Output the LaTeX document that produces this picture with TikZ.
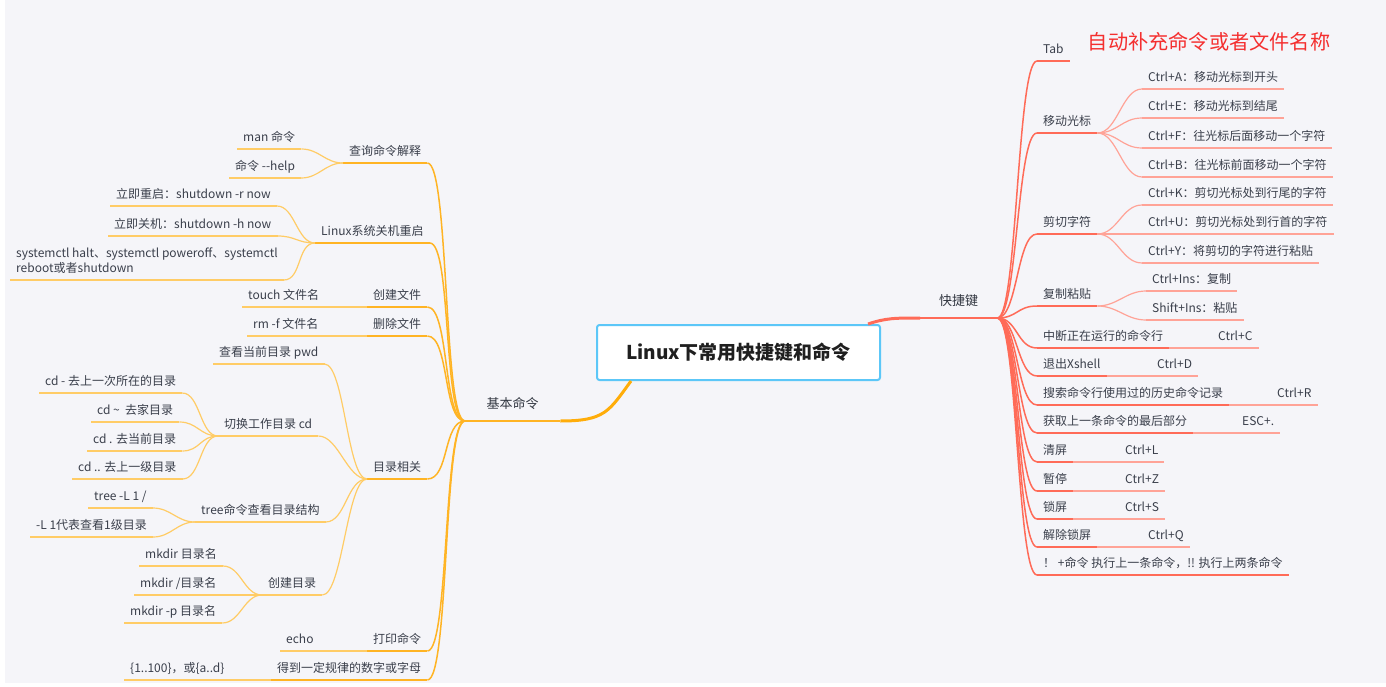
\documentclass[tikz,border=0pt]{standalone}
\usepackage{fontspec}
\setmainfont{Noto Sans CJK SC}
\usepackage{xcolor}
\usepackage{tikz}
\usetikzlibrary{positioning}

\definecolor{bg}{HTML}{F5F5F9}
\definecolor{ink}{HTML}{3A3F4B}
\definecolor{orgT}{HTML}{FFAD0A}
\definecolor{orgA}{HTML}{FFB424}
\definecolor{orgB}{HTML}{FFCC66}
\definecolor{redA}{HTML}{FF6B58}
\definecolor{redB}{HTML}{FFA397}
\definecolor{rootline}{HTML}{5CC7F8}
\definecolor{tipred}{HTML}{F42F2F}

\begin{document}
\begin{tikzpicture}[
    x=1pt, y=-1pt,
    topic/.style={
        anchor=south west,
        inner xsep=6pt,
        inner ysep=4.5pt,
        text height=9pt,
        text depth=3pt,
        text=ink,
        font=\fontsize{12}{15}\selectfont
    },
    hub/.style={
        topic,
        minimum width=#1,
        inner ysep=8.75pt,
        text height=9.75pt,
        text depth=3.25pt,
        text=ink!85!black,
        font=\fontsize{13}{15}\selectfont
    },
    midL/.style={
        topic,
        append after command={(\tikzlastnode.south west)
            edge[draw=orgA, line width=1.5pt] (\tikzlastnode.south east)}
    },
    leafL/.style={
        topic,
        append after command={(\tikzlastnode.south west)
            edge[draw=orgB, line width=1.2pt] (\tikzlastnode.south east)}
    },
    midR/.style={
        topic,
        append after command={(\tikzlastnode.south west)
            edge[draw=redA, line width=1.5pt] (\tikzlastnode.south east)}
    },
    leafR/.style={
        topic,
        append after command={(\tikzlastnode.south west)
            edge[draw=redB, line width=1.2pt] (\tikzlastnode.south east)}
    },
    rootbox/.style={
        rectangle,
        rounded corners=2.5pt,
        draw=rootline,
        line width=2pt,
        fill=white,
        minimum width=283pt,
        minimum height=55pt,
        text=black!88,
        font=\fontsize{19}{22}\selectfont\bfseries
    },
    note/.style={
        inner sep=0pt,
        text=tipred,
        font=\fontsize{20.2}{23}\selectfont
    },
    trunkL/.style={draw=orgT, line width=3pt},
    trunkR/.style={draw=redA, line width=3pt},
    linkL/.style={draw=orgA, line width=1.5pt},
    twigL/.style={draw=orgB, line width=1.2pt},
    linkR/.style={draw=redA, line width=1.5pt},
    twigR/.style={draw=redB, line width=1.2pt}
]

% ---------------- CANVAS ----------------

\fill[white] (0,0) rectangle (1386,687);
\fill[bg] (5,0) rectangle (1386,683);
\useasboundingbox (0,0) rectangle (1386,687);

% ---------------- ROOT ----------------

\node[rootbox] (root) at (738.5,352.5)
    {Linux下常用快捷键和命令};

\node[hub=95pt,
    append after command={(\tikzlastnode.south west)
        edge[draw=orgA, line width=2pt] (\tikzlastnode.south east)}]
    (jb) at (465,421) {基本命令};

\node[hub=77pt,
    append after command={(\tikzlastnode.south west)
        edge[draw=redA, line width=2pt] (\tikzlastnode.south east)}]
    (kjj) at (920,318) {快捷键};

\node[note] (tip) at (1209,42) {自动补充命令或者文件名称};

% ---------------- LEFT: 基本命令 ----------------

\node[midL] (q)    at (343,163) {查询命令解释};
\node[midL] (sys)  at (315,243) {Linux系统关机重启};
\node[midL] (mkf)  at (367,307) {创建文件};
\node[midL] (rmf)  at (367,336) {删除文件};
\node[midL] (dir)  at (367,479) {目录相关};
\node[midL] (prn)  at (367,651) {打印命令};
\node[midL] (seq)  at (271,680) {得到一定规律的数字或字母};

\node[leafL] (man)    at (237,149) {man 命令};
\node[leafL] (help)   at (229,178) {命令 -{}-help};
\node[leafL] (reboot) at (110,206) {立即重启：shutdown -r now};
\node[leafL] (halt)   at (108,236) {立即关机：shutdown -h now};
\node[leafL, align=left, text height=24pt] (sysctl) at (10,280)
    {systemctl halt、systemctl poweroff、systemctl\\reboot或者shutdown};
\node[leafL] (touch)  at (242,307) {touch 文件名};
\node[leafL] (rm)     at (247,336) {rm -f 文件名};
\node[leafL] (pwd)    at (213,364) {查看当前目录 pwd};
\node[leafL] (cdw)    at (218,436) {切换工作目录 cd};
\node[leafL] (tree)   at (195,522) {tree命令查看目录结构};
\node[leafL] (mkd)    at (262,595) {创建目录};
\node[leafL] (echo)   at (280,651) {echo};
\node[leafL] (rng)    at (124,680) {\{1..100\}，或\{a..d\}};

\node[leafL] (cd1) at (39,393) {cd - 去上一次所在的目录};
\node[leafL] (cd2) at (91,422) {cd \textasciitilde\ \ 去家目录};
\node[leafL] (cd3) at (87,451) {cd . 去当前目录};
\node[leafL] (cd4) at (72,479) {cd .. 去上一级目录};
\node[leafL] (tr1) at (88,508) {tree -L 1 /};
\node[leafL] (tr2) at (30,537) {-L 1代表查看1级目录};
\node[leafL] (mk1) at (139,566) {mkdir 目录名};
\node[leafL] (mk2) at (134,595) {mkdir /目录名};
\node[leafL] (mk3) at (124,623) {mkdir -p 目录名};

% ---------------- RIGHT: 快捷键 ----------------

\node[midR] (tab)    at (1037,61)  {Tab};
\node[midR] (mv)     at (1037,133) {移动光标};
\node[midR] (cut)    at (1037,234) {剪切字符};
\node[midR] (cp)     at (1037,306) {复制粘贴};
\node[midR] (intr)   at (1037,348) {中断正在运行的命令行};
\node[midR] (quit)   at (1037,376) {退出Xshell};
\node[midR] (srch)   at (1037,405) {搜索命令行使用过的历史命令记录};
\node[midR] (last)   at (1037,433) {获取上一条命令的最后部分};
\node[midR] (cls)    at (1037,462) {清屏};
\node[midR] (pause)  at (1037,491) {暂停};
\node[midR] (lock)   at (1037,519) {锁屏};
\node[midR] (unlock) at (1037,547) {解除锁屏};
\node[midR] (bang)   at (1037,575) {！ +命令 执行上一条命令，!! 执行上两条命令};

\node[leafR] (ca) at (1142,89)  {Ctrl+A：移动光标到开头};
\node[leafR] (ce) at (1142,118) {Ctrl+E：移动光标到结尾};
\node[leafR] (cf) at (1142,148) {Ctrl+F：往光标后面移动一个字符};
\node[leafR] (cb) at (1142,177) {Ctrl+B：往光标前面移动一个字符};
\node[leafR] (ck) at (1142,205) {Ctrl+K：剪切光标处到行尾的字符};
\node[leafR] (cu) at (1142,234) {Ctrl+U：剪切光标处到行首的字符};
\node[leafR] (cy) at (1142,263) {Ctrl+Y：将剪切的字符进行粘贴};
\node[leafR] (ci) at (1146,291) {Ctrl+Ins：复制};
\node[leafR] (si) at (1146,320) {Shift+Ins：粘贴};

\node[leafR] (cc)  at (1212,348) {Ctrl+C};
\node[leafR] (cdd) at (1151,376) {Ctrl+D};
\node[leafR] (cr)  at (1271,405) {Ctrl+R};
\node[leafR] (esc) at (1236,433) {ESC+.};
\node[leafR] (cl)  at (1119,462) {Ctrl+L};
\node[leafR] (cz)  at (1119,491) {Ctrl+Z};
\node[leafR] (cs)  at (1119,519) {Ctrl+S};
\node[leafR] (cq)  at (1142,547) {Ctrl+Q};

% ---------------- TRUNKS ----------------

\draw[trunkL] ([xshift=35pt]root.south west)
    .. controls +(-22,30) and +(45,0) .. (jb.south east);
\draw[trunkR] ([xshift=-13pt]root.north east)
    .. controls +(18,-6) and +(-25,0) .. (kjj.south west);

% ---------------- LEFT CONNECTORS ----------------

\draw[linkL] (jb.south west) .. controls +(-22,0) and +(22,0) .. (q.south east);
\draw[linkL] (jb.south west) .. controls +(-22,0) and +(22,0) .. (sys.south east);
\draw[linkL] (jb.south west) .. controls +(-22,0) and +(22,0) .. (mkf.south east);
\draw[linkL] (jb.south west) .. controls +(-22,0) and +(22,0) .. (rmf.south east);
\draw[linkL] (jb.south west) .. controls +(-22,0) and +(22,0) .. (dir.south east);
\draw[linkL] (jb.south west) .. controls +(-22,0) and +(22,0) .. (prn.south east);
\draw[linkL] (jb.south west) .. controls +(-22,0) and +(22,0) .. (seq.south east);

\draw[twigL] (q.south west) .. controls +(-18,0) and +(18,0) .. (man.south east);
\draw[twigL] (q.south west) .. controls +(-18,0) and +(18,0) .. (help.south east);

\draw[twigL] (sys.south west) .. controls +(-18,0) and +(18,0) .. (reboot.south east);
\draw[twigL] (sys.south west) .. controls +(-18,0) and +(18,0) .. (halt.south east);
\draw[twigL] (sys.south west) .. controls +(-18,0) and +(18,0) .. (sysctl.south east);

\draw[twigL] (mkf.south west) -- (touch.south east);
\draw[twigL] (rmf.south west) -- (rm.south east);

\draw[twigL] (dir.south west) .. controls +(-20,0) and +(20,0) .. (pwd.south east);
\draw[twigL] (dir.south west) .. controls +(-20,0) and +(20,0) .. (cdw.south east);
\draw[twigL] (dir.south west) .. controls +(-20,0) and +(20,0) .. (tree.south east);
\draw[twigL] (dir.south west) .. controls +(-20,0) and +(20,0) .. (mkd.south east);

\draw[twigL] (cdw.south west) .. controls +(-18,0) and +(18,0) .. (cd1.south east);
\draw[twigL] (cdw.south west) .. controls +(-18,0) and +(18,0) .. (cd2.south east);
\draw[twigL] (cdw.south west) .. controls +(-18,0) and +(18,0) .. (cd3.south east);
\draw[twigL] (cdw.south west) .. controls +(-18,0) and +(18,0) .. (cd4.south east);

\draw[twigL] (tree.south west) .. controls +(-18,0) and +(18,0) .. (tr1.south east);
\draw[twigL] (tree.south west) .. controls +(-18,0) and +(18,0) .. (tr2.south east);

\draw[twigL] (mkd.south west) .. controls +(-18,0) and +(18,0) .. (mk1.south east);
\draw[twigL] (mkd.south west) .. controls +(-18,0) and +(18,0) .. (mk2.south east);
\draw[twigL] (mkd.south west) .. controls +(-18,0) and +(18,0) .. (mk3.south east);

\draw[twigL] (prn.south west) -- (echo.south east);
\draw[twigL] (seq.south west) -- (rng.south east);

% ---------------- RIGHT CONNECTORS ----------------

\draw[linkR] (kjj.south east) .. controls +(20,0) and +(-20,0) .. (tab.south west);
\draw[linkR] (kjj.south east) .. controls +(20,0) and +(-20,0) .. (mv.south west);
\draw[linkR] (kjj.south east) .. controls +(20,0) and +(-20,0) .. (cut.south west);
\draw[linkR] (kjj.south east) .. controls +(20,0) and +(-20,0) .. (cp.south west);
\draw[linkR] (kjj.south east) .. controls +(20,0) and +(-20,0) .. (intr.south west);
\draw[linkR] (kjj.south east) .. controls +(20,0) and +(-20,0) .. (quit.south west);
\draw[linkR] (kjj.south east) .. controls +(20,0) and +(-20,0) .. (srch.south west);
\draw[linkR] (kjj.south east) .. controls +(20,0) and +(-20,0) .. (last.south west);
\draw[linkR] (kjj.south east) .. controls +(20,0) and +(-20,0) .. (cls.south west);
\draw[linkR] (kjj.south east) .. controls +(20,0) and +(-20,0) .. (pause.south west);
\draw[linkR] (kjj.south east) .. controls +(20,0) and +(-20,0) .. (lock.south west);
\draw[linkR] (kjj.south east) .. controls +(20,0) and +(-20,0) .. (unlock.south west);
\draw[linkR] (kjj.south east) .. controls +(20,0) and +(-20,0) .. (bang.south west);

\draw[twigR] (mv.south east) .. controls +(20,0) and +(-20,0) .. (ca.south west);
\draw[twigR] (mv.south east) .. controls +(20,0) and +(-20,0) .. (ce.south west);
\draw[twigR] (mv.south east) .. controls +(20,0) and +(-20,0) .. (cf.south west);
\draw[twigR] (mv.south east) .. controls +(20,0) and +(-20,0) .. (cb.south west);

\draw[twigR] (cut.south east) .. controls +(20,0) and +(-20,0) .. (ck.south west);
\draw[twigR] (cut.south east) .. controls +(20,0) and +(-20,0) .. (cu.south west);
\draw[twigR] (cut.south east) .. controls +(20,0) and +(-20,0) .. (cy.south west);

\draw[twigR] (cp.south east) .. controls +(20,0) and +(-20,0) .. (ci.south west);
\draw[twigR] (cp.south east) .. controls +(20,0) and +(-20,0) .. (si.south west);

\draw[twigR] (intr.south east) -- (cc.south west);
\draw[twigR] (quit.south east) -- (cdd.south west);
\draw[twigR] (srch.south east) -- (cr.south west);
\draw[twigR] (last.south east) -- (esc.south west);
\draw[twigR] (cls.south east) -- (cl.south west);
\draw[twigR] (pause.south east) -- (cz.south west);
\draw[twigR] (lock.south east) -- (cs.south west);
\draw[twigR] (unlock.south east) -- (cq.south west);

\end{tikzpicture}
\end{document}
